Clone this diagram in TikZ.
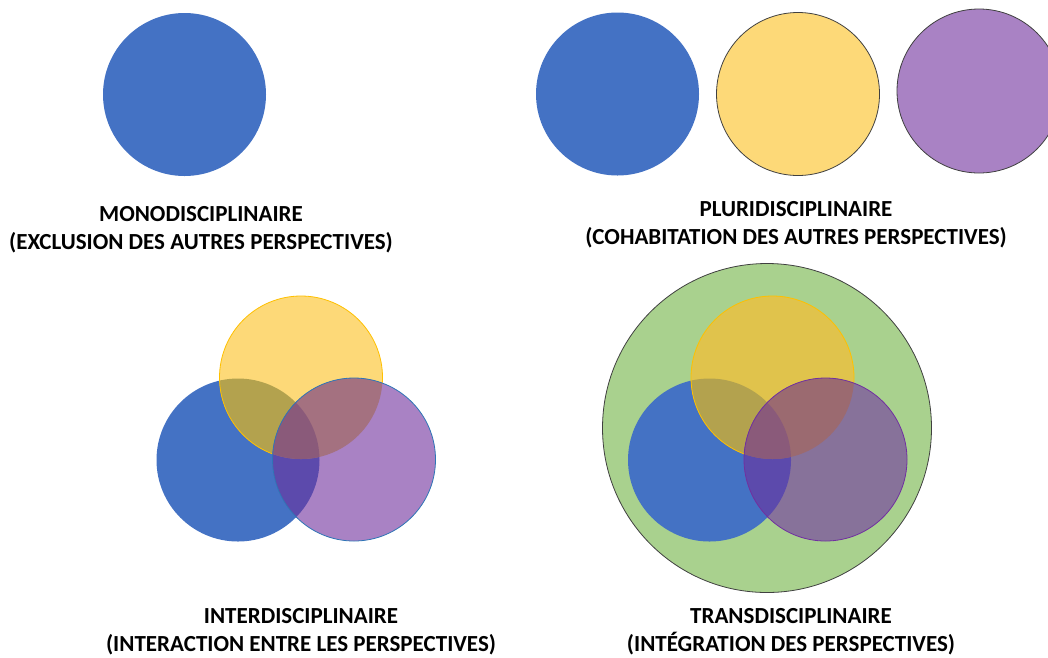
\documentclass[tikz,border=0pt]{standalone}
\usepackage{fontspec}
\setmainfont{Carlito}
\definecolor{blueC}{HTML}{4472C4}
\definecolor{yellowC}{HTML}{FDD978}
\definecolor{purpleC}{HTML}{A982C4}
\definecolor{greenC}{HTML}{A9D18E}
\definecolor{yellowG}{HTML}{E0C34C}
\definecolor{purpleG}{HTML}{87729A}
\definecolor{BYc}{HTML}{B3A24E}
\definecolor{YPc}{HTML}{A47180}
\definecolor{YPg}{HTML}{9B6A70}
\definecolor{BPc}{HTML}{5C4AAC}
\definecolor{BYPc}{HTML}{8A5A7A}
\definecolor{goldC}{HTML}{FFC000}
\definecolor{edgeBlue}{HTML}{2E75B6}
\definecolor{edgePurple}{HTML}{7030A0}
\definecolor{edgeGray}{HTML}{404040}
\tikzset{
  lbl/.style={font=\fontsize{23}{28}\selectfont\bfseries, align=center, text=black, inner sep=0pt},
  thin edge/.style={line width=0.8pt}
}
\begin{document}
\begin{tikzpicture}[x=1pt,y=-1pt]
\useasboundingbox (0,0) rectangle (1048,657);
\clip (0,0) rectangle (1048,657);
\fill[white] (0,0) rectangle (1048,657);
\def\R{81.5}
% ---------- MONO ----------
\coordinate (mono) at (184.5,94.5);
\fill[blueC] (mono) circle[radius=\R];
\node[lbl] (monotxt) at (201,230) {MONODISCIPLINAIRE\\(EXCLUSION DES AUTRES PERSPECTIVES)};
% ---------- PLURI ----------
\coordinate (pb) at (617.5,94);
\coordinate (py) at (798,94);
\coordinate (pp) at (979,91);
\fill[blueC] (pb) circle[radius=\R];
\filldraw[fill=yellowC, draw=edgeGray, thin edge] (py) circle[radius=\R];
\filldraw[fill=purpleC, draw=edgeGray, thin edge] (pp) circle[radius=82];
\node[lbl] (plutxt) at (796,224.5) {PLURIDISCIPLINAIRE\\(COHABITATION DES AUTRES PERSPECTIVES)};
% ---------- INTER ----------
\coordinate (ib) at (238,460);
\coordinate (iy) at (301,377.5);
\coordinate (ip) at (354,459.5);
\fill[blueC] (ib) circle[radius=\R];
\fill[yellowC] (iy) circle[radius=\R];
\begin{scope}\clip (ib) circle[radius=\R]; \fill[BYc] (iy) circle[radius=\R];\end{scope}
\draw[goldC, thin edge] (iy) circle[radius=\R];
\fill[purpleC] (ip) circle[radius=\R];
\begin{scope}\clip (ip) circle[radius=\R]; \fill[BPc] (ib) circle[radius=\R];\end{scope}
\begin{scope}\clip (ip) circle[radius=\R]; \fill[YPc] (iy) circle[radius=\R];\end{scope}
\begin{scope}\clip (ip) circle[radius=\R]; \clip (iy) circle[radius=\R]; \fill[BYPc] (ib) circle[radius=\R];\end{scope}
\draw[edgeBlue, thin edge] (ip) circle[radius=\R];
\node[lbl] (intertxt) at (301,632) {INTERDISCIPLINAIRE\\(INTERACTION ENTRE LES PERSPECTIVES)};
% ---------- TRANS ----------
\coordinate (tg) at (767,428);
\coordinate (tb) at (709.5,460);
\coordinate (ty) at (772.5,377.5);
\coordinate (tp) at (825.5,459.5);
\filldraw[fill=greenC, draw=edgeGray, thin edge] (tg) circle[radius=164.5];
\fill[blueC] (tb) circle[radius=\R];
\fill[yellowG] (ty) circle[radius=\R];
\begin{scope}\clip (tb) circle[radius=\R]; \fill[BYc] (ty) circle[radius=\R];\end{scope}
\draw[goldC, thin edge] (ty) circle[radius=\R];
\fill[purpleG] (tp) circle[radius=\R];
\begin{scope}\clip (tp) circle[radius=\R]; \fill[BPc] (tb) circle[radius=\R];\end{scope}
\begin{scope}\clip (tp) circle[radius=\R]; \fill[YPg] (ty) circle[radius=\R];\end{scope}
\begin{scope}\clip (tp) circle[radius=\R]; \clip (ty) circle[radius=\R]; \fill[BYPc] (tb) circle[radius=\R];\end{scope}
\draw[edgePurple, thin edge] (tp) circle[radius=\R];
\node[lbl] (transtxt) at (791,632) {TRANSDISCIPLINAIRE\\(INTÉGRATION DES PERSPECTIVES)};
\end{tikzpicture}
\end{document}
